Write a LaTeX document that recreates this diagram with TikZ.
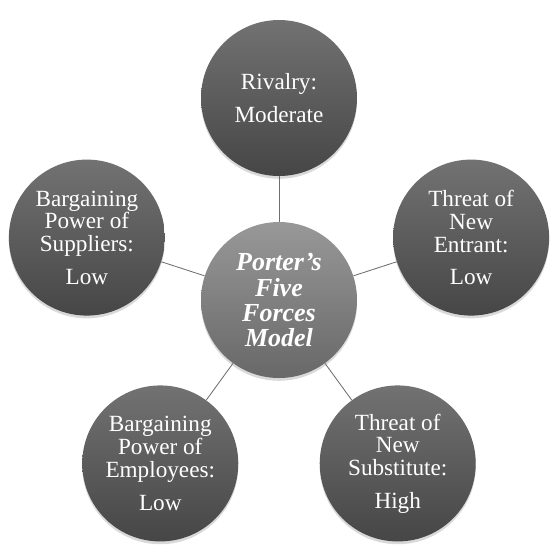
\documentclass[tikz,border=0pt]{standalone}
\usepackage{fontspec}
\setmainfont{Liberation Serif}
\usepackage{tikz}
\usetikzlibrary{shadows}
\definecolor{forcetop}{RGB}{114,114,114}
\definecolor{forcebot}{RGB}{70,70,70}
\definecolor{modeltop}{RGB}{152,152,152}
\definecolor{modelbot}{RGB}{104,104,104}
\definecolor{linkgray}{RGB}{110,110,110}

\begin{document}
\begin{tikzpicture}[
    force/.style={circle, minimum size=3.9cm, inner sep=0pt, align=center, text=white,
        top color=forcetop, bottom color=forcebot, draw=none,
        drop shadow={shadow xshift=0pt, shadow yshift=-0.07cm, opacity=0.3},
        font=\fontsize{16.5}{16.2}\selectfont},
    model/.style={force, top color=modeltop, bottom color=modelbot,
        font=\fontsize{18.5}{17.8}\selectfont\bfseries\itshape},
    link/.style={draw=linkgray, line width=0.6pt}
]
    \useasboundingbox (-6.975,-6.225) rectangle (6.975,7.5);
    \node[model] (model) at (0,0) {Porter’s\\Five\\Forces\\Model};
    \node[force] (rivalry) at (90:5.05) {Rivalry:\\[7pt]Moderate};
    \node[force] (suppliers) at (162:5.05) {Bargaining\\Power of\\Suppliers:\\[7pt]Low};
    \node[force] (entrant) at (18:5.05) {Threat of\\New\\Entrant:\\[7pt]Low};
    \node[force] (employees) at (234:5.05) {Bargaining\\Power of\\Employees:\\[7pt]Low};
    \node[force] (substitute) at (306:5.05) {Threat of\\New\\Substitute:\\[7pt]High};
    \draw[link] (model) -- (rivalry);
    \draw[link] (model) -- (suppliers);
    \draw[link] (model) -- (entrant);
    \draw[link] (model) -- (employees);
    \draw[link] (model) -- (substitute);
\end{tikzpicture}
\end{document}
